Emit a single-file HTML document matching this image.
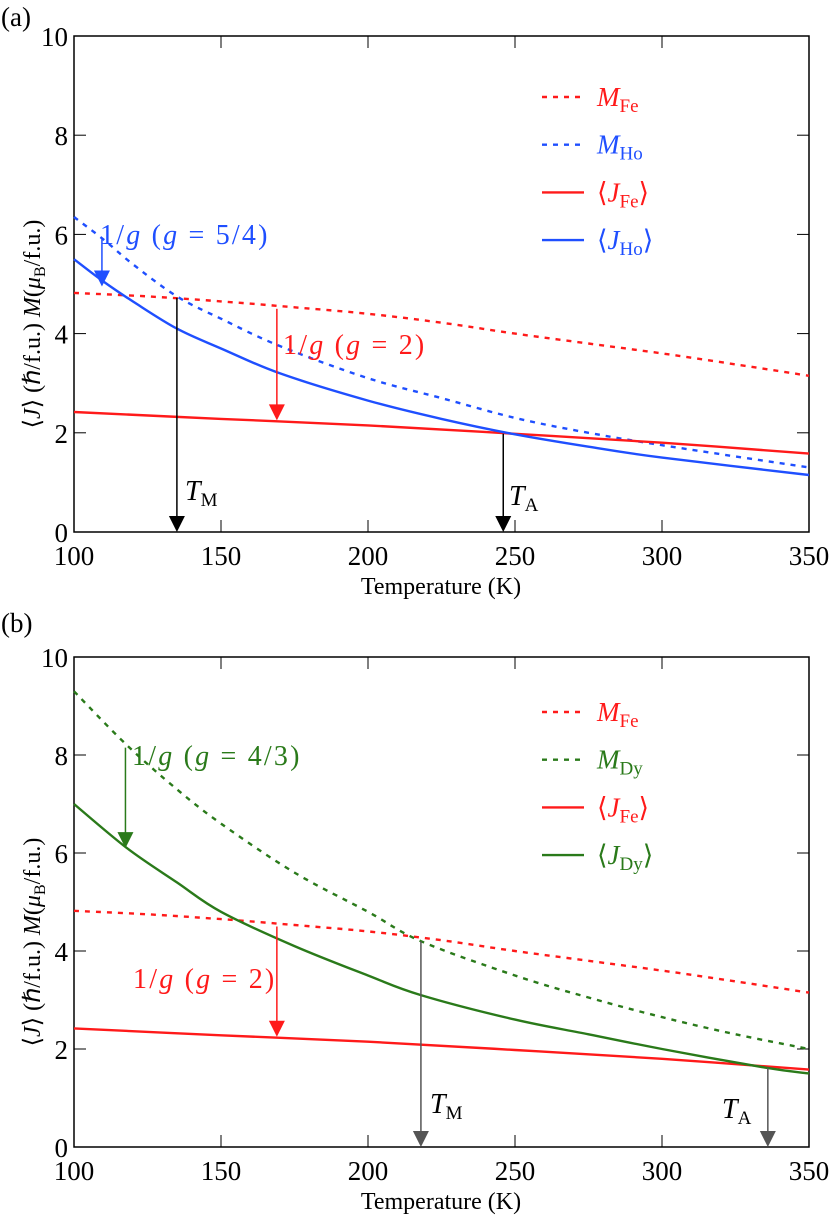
<!DOCTYPE html>
<html><head><meta charset="utf-8"><style>
body{margin:0;background:#fff}
svg text{font-family:"Liberation Serif",serif}
</style></head><body>
<svg id="s" width="830" height="1218" viewBox="0 0 830 1218" xmlns="http://www.w3.org/2000/svg"></svg>
<script>
const xTicks=[100,150,200,250,300,350];
const yTicks=[0,2,4,6,8,10];
const tempA_MFe=[100,125,150,175,200,225,250,275,300,325,350];
const valA_MFe=[4.82,4.75,4.65,4.53,4.4,4.22,4.0,3.8,3.6,3.38,3.15];
const tempA_JFe=[100,150,200,250,300,350];
const valA_JFe=[2.42,2.28,2.15,1.98,1.8,1.58];
const tempA_MHo=[100,110,120,135,150,170,200,225,250,275,300,350];
const valA_MHo=[6.35,5.9,5.4,4.75,4.3,3.75,3.1,2.7,2.3,2.0,1.75,1.3];
const tempA_JHo=[100,110,120,135,150,170,200,225,250,275,300,350];
const valA_JHo=[5.5,5.05,4.65,4.1,3.7,3.2,2.65,2.28,1.97,1.72,1.5,1.15];
const tempB_MDy=[100,118,135,150,175,200,218,250,275,300,325,350];
const valB_MDy=[9.3,8.2,7.3,6.6,5.6,4.8,4.2,3.5,3.05,2.65,2.3,2.0];
const tempB_JDy=[100,118,135,150,175,200,218,250,275,300,335,350];
const valB_JDy=[7.0,6.1,5.4,4.8,4.1,3.5,3.1,2.6,2.3,2.0,1.62,1.5];

const S=document.getElementById('s');const NS='http://www.w3.org/2000/svg';
function el(t,a,p){const e=document.createElementNS(NS,t);for(const k in a)e.setAttribute(k,a[k]);(p||S).appendChild(e);return e;}
const XL=74,XR=809;
const X=v=>XL+(v-100)*(XR-XL)/250;
function panel(top,bottom,id,lblY){
  const Y=v=>bottom-v*(bottom-top)/10;
  const g=el('g',{});
  
  
  const f=el('rect',{x:XL,y:top,width:XR-XL,height:bottom-top,fill:'none',stroke:'#000','stroke-width':1.5},g);
  
  xTicks.forEach(t=>{el('line',{x1:X(t),x2:X(t),y1:bottom,y2:bottom-12,stroke:'#000'},g);
    el('line',{x1:X(t),x2:X(t),y1:top,y2:top+12,stroke:'#000'},g);
    const tx=el('text',{x:X(t),y:bottom+33,'font-size':27,'text-anchor':'middle'},g);tx.textContent=t;
    });
  yTicks.forEach(t=>{el('line',{x1:XL,x2:XL+12,y1:Y(t),y2:Y(t),stroke:'#000'},g);
    el('line',{x1:XR,x2:XR-12,y1:Y(t),y2:Y(t),stroke:'#000'},g);
    const tx=el('text',{x:68,y:Y(t)+10,'font-size':27,'text-anchor':'end'},g);tx.textContent=t;
    });
  const xt=el('text',{x:441,y:bottom+62,'font-size':24,'text-anchor':'middle'},g);xt.textContent='Temperature (K)';
  
  const cy=(top+bottom)/2+40;
  const yt=el('text',{x:0,y:0,'font-size':24,'text-anchor':'middle',transform:`translate(40,${cy}) rotate(-90)`},g);
  yt.innerHTML='⟨<tspan font-style="italic">J</tspan>⟩ (ℏ/f.u.) <tspan font-style="italic">M</tspan>(<tspan font-style="italic">μ</tspan><tspan font-size="16" dy="5">B</tspan><tspan dy="-5">/f.u.)</tspan>';
  
  const lb=el('text',{x:1,y:lblY,'font-size':27},g);lb.textContent='('+id+')';
  
  return {g,Y};
}
function smooth(pts){
  let d='M'+pts[0][0].toFixed(1)+','+pts[0][1].toFixed(1);
  for(let i=0;i<pts.length-1;i++){
    const p0=pts[i-1]||pts[i],p1=pts[i],p2=pts[i+1],p3=pts[i+2]||p2;
    const c1=[p1[0]+(p2[0]-p0[0])/6,p1[1]+(p2[1]-p0[1])/6];
    const c2=[p2[0]-(p3[0]-p1[0])/6,p2[1]-(p3[1]-p1[1])/6];
    d+=` C${c1[0].toFixed(1)},${c1[1].toFixed(1)} ${c2[0].toFixed(1)},${c2[1].toFixed(1)} ${p2[0].toFixed(1)},${p2[1].toFixed(1)}`;
  }
  return d;
}
function series(p,xs,ys,color,dash,name){
  const d=smooth(xs.map((x,i)=>[X(x),p.Y(ys[i])]));
  const e=el('path',{d,fill:'none',stroke:color,'stroke-width':2.4,'stroke-dasharray':dash?'5,6':'none'},p.g);
  
}
function arrow(p,x,v1,v2,color,name){
  const x0=X(x),y1=p.Y(v1),y2=p.Y(v2);
  const l=el('line',{x1:x0,x2:x0,y1,y2:y2-14,stroke:color,'stroke-width':1.5},p.g);
  
  const h=el('polygon',{points:`${x0-8},${y2-16} ${x0+8},${y2-16} ${x0},${y2}`,fill:color},p.g);
  
}
function label(p,x,y,html,color,name,size,ls){
  const t=el('text',{x,y,'font-size':size||28,fill:color,'letter-spacing':ls||0},p.g);t.innerHTML=html;
  
}
function legend(p,y0,items){
  items.forEach((it,i)=>{const y=y0+i*47.7;
    const l=el('line',{x1:542,x2:584,y1:y,y2:y,stroke:it.c,'stroke-width':2.4,'stroke-dasharray':it.d?'5,6':'none'},p.g);
    
    label(p,597,y+9,it.t,it.c,'legend-entry',27);});
}
const R='#ff1a1a',B='#1f4fff',G='#2a7a1a';
const sub=s=>`<tspan font-size="19" dy="6">${s}</tspan>`;
const gl=s=>`1/<tspan font-style="italic">g</tspan>  (<tspan font-style="italic">g</tspan> = ${s})`;
// panel a
const a=panel(36,532,'a',26);
series(a,tempA_MFe,valA_MFe,R,true,'m-fe-dashed');
series(a,tempA_MHo,valA_MHo,B,true,'m-ho-dashed');
series(a,tempA_JFe,valA_JFe,R,false,'j-fe-line');
series(a,tempA_JHo,valA_JHo,B,false,'j-ho-line');
arrow(a,109.5,5.9,4.95,B,'arrow-g-ho');
arrow(a,135,4.72,0,'#000','arrow-tm');
arrow(a,169,4.5,2.25,R,'arrow-g-fe');
arrow(a,246,1.98,0,'#000','arrow-ta');
label(a,100,244,gl('5/4'),B,'g-ho-label',28,2.2);
label(a,283,354,gl('2'),R,'g-fe-label',28,2.2);
label(a,185,500,'<tspan font-style="italic">T</tspan>'+sub('M'),'#000','tm-label');
label(a,509,505,'<tspan font-style="italic">T</tspan>'+sub('A'),'#000','ta-label');
legend(a,97,[{t:'<tspan font-style="italic">M</tspan>'+sub('Fe'),c:R,d:1},{t:'<tspan font-style="italic">M</tspan>'+sub('Ho'),c:B,d:1},
 {t:'⟨<tspan font-style="italic">J</tspan>'+sub('Fe')+'<tspan dy="-6">⟩</tspan>',c:R},{t:'⟨<tspan font-style="italic">J</tspan>'+sub('Ho')+'<tspan dy="-6">⟩</tspan>',c:B}]);
// panel b
const b=panel(657,1147,'b',632);
series(b,tempA_MFe,valA_MFe,R,true,'m-fe-dashed');
series(b,tempB_MDy,valB_MDy,G,true,'m-dy-dashed');
series(b,tempA_JFe,valA_JFe,R,false,'j-fe-line');
series(b,tempB_JDy,valB_JDy,G,false,'j-dy-line');
arrow(b,117.5,8.15,6.1,G,'arrow-g-dy');
arrow(b,169,4.5,2.25,R,'arrow-g-fe');
arrow(b,218,4.2,0,'#555','arrow-tm');
arrow(b,336,1.62,0,'#555','arrow-ta');
label(b,132,765,gl('4/3'),G,'g-dy-label',28,2.2);
label(b,133,988,gl('2'),R,'g-fe-label',28,2.2);
label(b,430,1113,'<tspan font-style="italic">T</tspan>'+sub('M'),'#000','tm-label');
label(b,722,1118,'<tspan font-style="italic">T</tspan>'+sub('A'),'#000','ta-label');
legend(b,712,[{t:'<tspan font-style="italic">M</tspan>'+sub('Fe'),c:R,d:1},{t:'<tspan font-style="italic">M</tspan>'+sub('Dy'),c:G,d:1},
 {t:'⟨<tspan font-style="italic">J</tspan>'+sub('Fe')+'<tspan dy="-6">⟩</tspan>',c:R},{t:'⟨<tspan font-style="italic">J</tspan>'+sub('Dy')+'<tspan dy="-6">⟩</tspan>',c:G}]);
</script>
</body></html>
